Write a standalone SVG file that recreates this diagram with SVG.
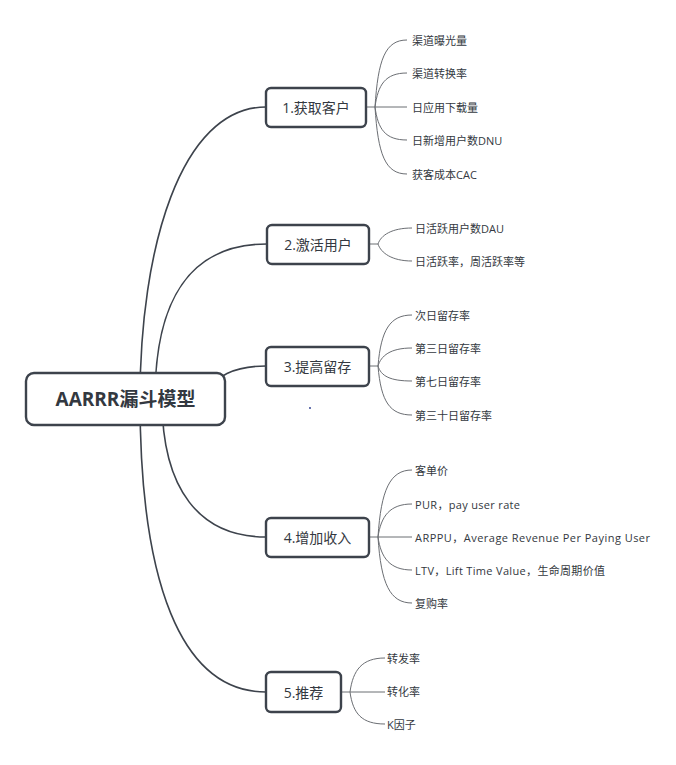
<svg xmlns="http://www.w3.org/2000/svg" width="676" height="765" viewBox="0 0 676 765">
<style>
.main{fill:none;stroke:#3d434c;stroke-width:1.6}
.sub{fill:none;stroke:#6b6e73;stroke-width:1}
.box{fill:#fff;stroke:#3d434c;stroke-width:2.4}
.root{fill:#fff;stroke:#3d434c;stroke-width:2.4}
.rt{font-family:"Open Sans","Noto Sans CJK SC",sans-serif;font-size:19px;font-weight:bold;fill:#333840;text-anchor:middle;dominant-baseline:central}
.tt{font-family:"Open Sans","Noto Sans CJK SC",sans-serif;font-size:14px;fill:#333840;text-anchor:middle;dominant-baseline:central}
.lt{font-family:"Open Sans","Noto Sans CJK SC",sans-serif;font-size:11px;fill:#333840;dominant-baseline:central}
</style>
<rect width="676" height="765" fill="#fff"/>
<g id="connectors">
<path class="main" d="M140,399 C140,250 180,107 266,107"/>
<path class="main" d="M155,399 C155,300 190,244 267,244"/>
<path class="main" d="M200,399 C215,375 235,366 266,366"/>
<path class="main" d="M162,399 C162,490 200,537 266,537"/>
<path class="main" d="M140,399 C140,580 180,692 266,692"/>
<path class="sub" d="M366,107 H375 M375,107 C378,60 385,40 407,40 M375,107 C378,85 385,73 407,73 M375,107 H407 M375,107 C378,129 385,140 407,140 M375,107 C378,154 385,174 407,174"/>
<path class="sub" d="M369,244 H378 M378,244 C381,235 392,228 412,228 M378,244 C381,253 392,261 412,261"/>
<path class="sub" d="M369,366 H378 M378,366 C381,330 390,315 412,315 M378,366 C381,356 390,348 412,348 M378,366 C381,376 390,381 412,381 M378,366 C381,402 390,415 412,415"/>
<path class="sub" d="M369,537 H378 M378,537 C381,490 390,470 412,470 M378,537 C381,516 390,504 412,504 M378,537 H412 M378,537 C381,558 390,570 412,570 M378,537 C381,584 390,603 412,603"/>
<path class="sub" d="M341,692 H350 M350,692 C353,670 362,658 385,658 M350,692 H385 M350,692 C353,714 362,724 385,724"/>
</g>
<g id="root"><rect class="root" x="26" y="373" width="199" height="52" rx="8"/><text class="rt" x="125.5" y="399">AARRR漏斗模型</text></g>
<g id="t1"><rect class="box" x="266" y="88" width="100" height="39" rx="5"/><text class="tt" x="316" y="107.5">1.获取客户</text></g>
<g id="t2"><rect class="box" x="267" y="225" width="102" height="39" rx="5"/><text class="tt" x="318" y="244.5">2.激活用户</text></g>
<g id="t3"><rect class="box" x="266" y="347" width="103" height="39" rx="5"/><text class="tt" x="317.5" y="366.5">3.提高留存</text></g>
<g id="t4"><rect class="box" x="266" y="518" width="103" height="39" rx="5"/><text class="tt" x="317.5" y="537.5">4.增加收入</text></g>
<g id="t5"><rect class="box" x="266" y="672" width="75" height="40" rx="5"/><text class="tt" x="303.5" y="692">5.推荐</text></g>
<g id="l1"><text class="lt" x="412" y="40">渠道曝光量</text><text class="lt" x="412" y="73">渠道转换率</text><text class="lt" x="412" y="107">日应用下载量</text><text class="lt" x="412" y="140">日新增用户数DNU</text><text class="lt" x="412" y="174">获客成本CAC</text></g>
<g id="l2"><text class="lt" x="415" y="228">日活跃用户数DAU</text><text class="lt" x="415" y="261">日活跃率，周活跃率等</text></g>
<g id="l3"><text class="lt" x="415" y="315">次日留存率</text><text class="lt" x="415" y="348">第三日留存率</text><text class="lt" x="415" y="381">第七日留存率</text><text class="lt" x="415" y="415">第三十日留存率</text></g>
<g id="l4"><text class="lt" x="415" y="470">客单价</text><text class="lt" x="415" y="504" textLength="105" lengthAdjust="spacing">PUR，pay user rate</text><text class="lt" x="415" y="537" textLength="235" lengthAdjust="spacing">ARPPU，Average Revenue Per Paying User</text><text class="lt" x="415" y="570" textLength="190" lengthAdjust="spacing">LTV，Lift Time Value，生命周期价值</text><text class="lt" x="415" y="603">复购率</text></g>
<g id="l5"><text class="lt" x="387" y="658">转发率</text><text class="lt" x="387" y="691">转化率</text><text class="lt" x="387" y="724">K因子</text></g>
<circle cx="310" cy="408" r="0.9" fill="#223388"/>
</svg>
